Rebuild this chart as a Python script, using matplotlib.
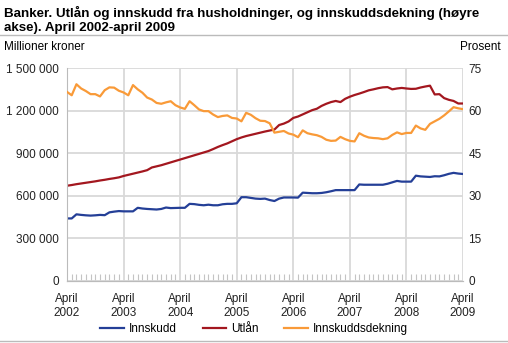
import numpy as np
import matplotlib
matplotlib.use("Agg")
import matplotlib.pyplot as plt
from matplotlib.ticker import FuncFormatter

plt.rcParams['font.family'] = ['Liberation Sans', 'DejaVu Sans']

# Monthly figures, April 2002 - April 2009 (million NOK, in thousands)
innskudd = [440, 440, 469, 465, 462, 460, 462, 465, 463, 483, 488, 492,
            490, 490, 490, 515, 510, 507, 505, 503, 507, 517, 513, 514,
            515, 515, 543, 541, 536, 533, 537, 533, 533, 540, 543, 543,
            547, 590, 590, 585, 580, 578, 580, 570, 563, 580, 588, 588,
            588, 587, 622, 620, 618, 618, 620, 625, 632, 640, 640, 640,
            640, 640, 680, 678, 678, 678, 678, 678, 685, 695, 705, 700,
            700, 700, 742, 737, 735, 733, 738, 737, 745, 755, 762, 757,
            754]
utlan = [671, 676, 682, 687, 692, 697, 702, 708, 713, 719, 724, 730,
         740, 748, 756, 764, 772, 781, 800, 808, 816, 826, 836, 846,
         856, 866, 876, 886, 896, 906, 916, 930, 945, 958, 970, 985,
         1000, 1012, 1022, 1030, 1038, 1046, 1054, 1061, 1068, 1100, 1110, 1125,
         1150, 1160, 1175, 1190, 1205, 1215, 1235, 1250, 1262, 1270, 1262, 1285,
         1300, 1312, 1322, 1333, 1345, 1352, 1360, 1366, 1368, 1352, 1358, 1362,
         1358, 1355, 1356, 1365, 1372, 1378, 1316, 1318, 1290, 1278, 1270, 1252,
         1252]
# Deposit coverage, percent (right axis)
dekning = [66.7, 65.5, 69.4, 67.9, 67.0, 65.9, 65.9, 65.1, 67.3, 68.3, 68.2, 67.1,
           66.5, 65.5, 69.1, 67.6, 66.4, 64.7, 64.0, 62.8, 62.5, 63.0, 63.4, 62.0,
           61.2, 60.7, 63.4, 62.0, 60.5, 59.9, 59.9, 58.7, 57.8, 58.2, 58.4, 57.5,
           57.3, 56.3, 59.3, 58.6, 57.4, 56.5, 56.4, 55.6, 52.3, 52.6, 52.9, 52.0,
           51.6, 50.7, 53.1, 52.1, 51.7, 51.4, 50.8, 49.8, 49.4, 49.5, 50.8, 50.0,
           49.4, 49.2, 52.1, 51.2, 50.6, 50.4, 50.3, 50.0, 50.3, 51.5, 52.4, 51.8,
           52.2, 52.2, 54.8, 53.8, 53.3, 55.4, 56.3, 57.2, 58.4, 59.8, 61.3, 60.9,
           60.6]
years = ["2002", "2003", "2004", "2005", "2006", "2007", "2008", "2009"]

months = np.arange(len(innskudd))
grid_c = "#d9d9d9"

fig = plt.figure(figsize=(5.08, 3.43), dpi=100)
ax = fig.add_axes([0.1319, 0.1816, 0.7795, 0.619])
ax2 = ax.twinx()

l1, = ax.plot(months, np.array(innskudd) * 1000, color="#243f97", lw=1.6, label="Innskudd")
l2, = ax.plot(months, np.array(utlan) * 1000, color="#a3171f", lw=1.6, label="Utlån")
l3, = ax2.plot(months, dekning, color="#f99a38", lw=1.6, label="Innskuddsdekning")

ax.set_xlim(0, 84)
ax.set_ylim(0, 1500000)
ax2.set_ylim(0, 75)
ax.set_yticks(np.arange(0, 1500001, 300000))
ax2.set_yticks(np.arange(0, 76, 15))
ax.yaxis.set_major_formatter(FuncFormatter(lambda v, p: f"{int(v):,}".replace(",", " ")))

ax.set_xticks(np.arange(0, 85, 12))
ax.set_xticklabels([f"April\n{y}" for y in years])
ax.set_xticks(months, minor=True)

ax.grid(True, color=grid_c, lw=1.3)
ax.set_axisbelow(True)
ax.tick_params(axis="y", length=0, labelsize=8.5, pad=6, colors="#222222")
ax2.tick_params(axis="y", length=0, labelsize=8.5, pad=4, colors="#222222")
ax.tick_params(axis="x", which="major", length=0, labelsize=8.5, pad=9, colors="#222222")
ax.tick_params(axis="x", which="minor", direction="in", length=5, color="#c4c4c4", width=0.8)

for a in (ax, ax2):
    for s in ("top", "right"):
        a.spines[s].set_visible(False)
    a.spines["left"].set_visible(False)
    a.spines["bottom"].set_color("#bbbbbb")
ax.spines["left"].set_visible(True)
ax.spines["left"].set_color("#bbbbbb")

fig.text(0.008, 0.983, "Banker. Utlån og innskudd fra husholdninger, og innskuddsdekning (høyre\nakse). April 2002-april 2009",
         fontsize=9.6, fontweight="bold", va="top", ha="left", linespacing=1.2)
fig.add_artist(plt.Line2D([0, 1], [0.898, 0.898], color="#bbbbbb", lw=1))
fig.add_artist(plt.Line2D([0, 1], [0.006, 0.006], color="#bbbbbb", lw=1))
fig.text(0.008, 0.862, "Millioner kroner", fontsize=8.5, va="center", ha="left")
fig.text(0.985, 0.862, "Prosent", fontsize=8.5, va="center", ha="right")

fig.legend(handles=[l1, l2, l3], loc="center", bbox_to_anchor=(0.5, 0.04), ncol=3,
           frameon=False, fontsize=8.5, handlelength=2.0, columnspacing=2.2, handletextpad=0.4)

fig.savefig("out.png", dpi=100)
